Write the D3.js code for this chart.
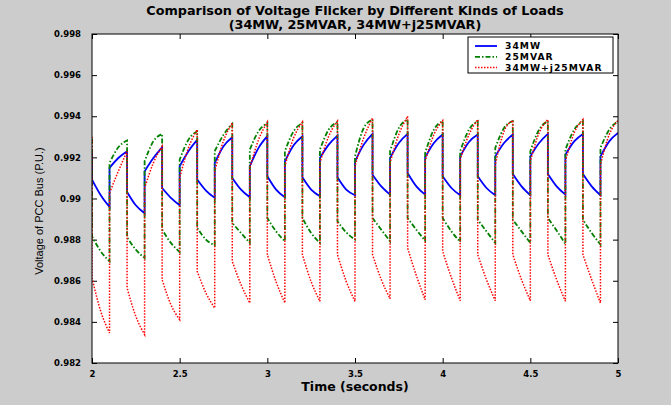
<!DOCTYPE html>
<html>
<head>
<meta charset="utf-8">
<script src="https://cdn.jsdelivr.net/npm/d3@7"></script>
<style>
  body { margin: 0; background: #cccccc; }
</style>
</head>
<body>
<div id="chart"></div>
<script>
// tick values
var xTicks = [2, 2.5, 3, 3.5, 4, 4.5, 5];
var yTicks = [0.982, 0.984, 0.986, 0.988, 0.99, 0.992, 0.994, 0.996, 0.998];

// switching instants (load off / on every 0.1 s)
var segTimes = [2.0, 2.1, 2.2, 2.3, 2.4, 2.5, 2.6, 2.7, 2.8, 2.9, 3.0,
                3.1, 3.2, 3.3, 3.4, 3.5, 3.6, 3.7, 3.8, 3.9, 4.0,
                4.1, 4.2, 4.3, 4.4, 4.5, 4.6, 4.7, 4.8, 4.9, 5.0];

// value just before t = 2 for each series
var prevValues = [0.9923, 0.9929, 0.9930];

// each segment: [start, middle, end] voltage
var mw34 = [
  [0.99092, 0.99016, 0.98959], [0.99149, 0.99197, 0.99230],
  [0.99032, 0.98967, 0.98928], [0.99132, 0.99197, 0.99249],
  [0.99051, 0.99003, 0.98967], [0.99157, 0.99230, 0.99285],
  [0.99092, 0.99038, 0.99003], [0.99173, 0.99254, 0.99298],
  [0.99100, 0.99043, 0.99006], [0.99157, 0.99246, 0.99303],
  [0.99108, 0.99043, 0.99006], [0.99181, 0.99259, 0.99303],
  [0.99103, 0.99043, 0.99011], [0.99197, 0.99262, 0.99306],
  [0.99103, 0.99043, 0.99016], [0.99181, 0.99262, 0.99314],
  [0.99116, 0.99059, 0.99019], [0.99197, 0.99270, 0.99314],
  [0.99124, 0.99059, 0.99019], [0.99200, 0.99270, 0.99311],
  [0.99108, 0.99051, 0.99016], [0.99205, 0.99275, 0.99311],
  [0.99108, 0.99051, 0.99016], [0.99205, 0.99270, 0.99311],
  [0.99119, 0.99059, 0.99016], [0.99205, 0.99270, 0.99314],
  [0.99119, 0.99059, 0.99019], [0.99213, 0.99278, 0.99314],
  [0.99119, 0.99059, 0.99016], [0.99205, 0.99278, 0.99319]
];
var mvar25 = [
  [0.98816, 0.98743, 0.98694], [0.99173, 0.99249, 0.99282],
  [0.98811, 0.98751, 0.98711], [0.99181, 0.99278, 0.99314],
  [0.98849, 0.98784, 0.98740], [0.99189, 0.99286, 0.99327],
  [0.98857, 0.98800, 0.98772], [0.99230, 0.99310, 0.99363],
  [0.98881, 0.98832, 0.98784], [0.99238, 0.99327, 0.99368],
  [0.98905, 0.98840, 0.98792], [0.99230, 0.99327, 0.99368],
  [0.98905, 0.98832, 0.98784], [0.99238, 0.99335, 0.99372],
  [0.98889, 0.98835, 0.98800], [0.99205, 0.99343, 0.99384],
  [0.98905, 0.98848, 0.98792], [0.99230, 0.99343, 0.99384],
  [0.98905, 0.98848, 0.98795], [0.99222, 0.99335, 0.99376],
  [0.98905, 0.98840, 0.98789], [0.99230, 0.99335, 0.99376],
  [0.98897, 0.98840, 0.98784], [0.99246, 0.99343, 0.99376],
  [0.98897, 0.98840, 0.98784], [0.99230, 0.99335, 0.99376],
  [0.98905, 0.98844, 0.98779], [0.99238, 0.99335, 0.99376],
  [0.98897, 0.98832, 0.98776], [0.99246, 0.99335, 0.99376]
];
var mixed = [
  [0.98613, 0.98451, 0.98346], [0.99027, 0.99132, 0.99230],
  [0.98565, 0.98427, 0.98338], [0.99051, 0.99173, 0.99254],
  [0.98605, 0.98484, 0.98411], [0.99100, 0.99246, 0.99335],
  [0.98646, 0.98540, 0.98467], [0.99132, 0.99280, 0.99368],
  [0.98694, 0.98581, 0.98492], [0.99149, 0.99286, 0.99372],
  [0.98727, 0.98595, 0.98492], [0.99157, 0.99295, 0.99372],
  [0.98727, 0.98595, 0.98500], [0.99173, 0.99303, 0.99376],
  [0.98727, 0.98597, 0.98500], [0.99157, 0.99295, 0.99392],
  [0.98727, 0.98605, 0.98513], [0.99173, 0.99311, 0.99400],
  [0.98759, 0.98625, 0.98508], [0.99181, 0.99311, 0.99379],
  [0.98743, 0.98615, 0.98503], [0.99189, 0.99311, 0.99384],
  [0.98727, 0.98605, 0.98503], [0.99165, 0.99327, 0.99379],
  [0.98727, 0.98605, 0.98503], [0.99181, 0.99319, 0.99384],
  [0.98727, 0.98605, 0.98500], [0.99181, 0.99319, 0.99384],
  [0.98727, 0.98605, 0.98492], [0.99165, 0.99311, 0.99379]
];
var seriesNames = ["34MW", "25MVAR", "34MW+j25MVAR"];

// set the dimensions and margins of the graph
var margin = {top: 34, right: 53, bottom: 42, left: 92},
    width = 671 - margin.left - margin.right,
    height = 405 - margin.top - margin.bottom;

var svg = d3.select("#chart")
  .append("svg")
    .attr("width", 671)
    .attr("height", 405)
    .style("display", "block");

svg.append("rect")
    .attr("width", 671)
    .attr("height", 405)
    .attr("fill", "#cccccc");

var g = svg.append("g")
    .attr("transform", "translate(" + margin.left + "," + margin.top + ")");

g.append("rect")
    .attr("width", width)
    .attr("height", height)
    .attr("fill", "white");

var x = d3.scaleLinear().domain([2, 5]).range([0, width]);
var y = d3.scaleLinear().domain([0.982, 0.998]).range([height, 0]);

var fmt = function(d) { return String(+d.toFixed(3)); };

// axes, ticks pointing inward like matlab
g.append("g")
    .attr("class", "axis")
    .attr("transform", "translate(0," + height + ")")
    .call(d3.axisBottom(x).tickValues(xTicks).tickSize(-5).tickSizeOuter(0).tickPadding(8).tickFormat(fmt));
g.append("g")
    .attr("class", "axis")
    .call(d3.axisLeft(y).tickValues(yTicks).tickSize(-5).tickSizeOuter(0).tickPadding(11).tickFormat(fmt));
g.append("g")
    .attr("class", "axis")
    .call(d3.axisTop(x).tickValues(xTicks).tickSize(-5).tickSizeOuter(0).tickFormat(""));
g.append("g")
    .attr("class", "axis")
    .attr("transform", "translate(" + width + ",0)")
    .call(d3.axisRight(y).tickValues(yTicks).tickSize(-5).tickSizeOuter(0).tickFormat(""));

g.selectAll(".axis .domain").remove();
g.selectAll(".axis line").attr("stroke", "#000");
g.selectAll(".axis text")
    .style("font-family", "DejaVu Sans")
    .style("font-weight", "bold")
    .style("font-size", "8.5px")
    .attr("fill", "#000");

g.append("clipPath").attr("id", "plotclip")
  .append("rect").attr("width", width).attr("height", height);

// one path per series: each segment is a smooth curve through its 3 points,
// consecutive segments joined by the vertical switching step
var seg = d3.line()
    .x(function(d) { return x(d[0]); })
    .y(function(d) { return y(d[1]); })
    .curve(d3.curveMonotoneX);

function buildPath(prev, segs) {
  var d = "M" + x(segTimes[0]) + "," + y(prev);
  segs.forEach(function(s, i) {
    var t0 = segTimes[i], t1 = segTimes[i + 1];
    var p = seg([[t0, s[0]], [(t0 + t1) / 2, s[1]], [t1, s[2]]]);
    d += "L" + p.slice(1);
  });
  return d;
}

var styles = [
  {color: "#0000ff", w: 1.8, dash: null},
  {color: "#008000", w: 1.8, dash: "5,2,1.5,2"},
  {color: "#ff0000", w: 1.5, dash: "1.5,1.5"}
];
var allSeries = [mw34, mvar25, mixed];

var lines = g.append("g").attr("clip-path", "url(#plotclip)");
allSeries.forEach(function(s, i) {
  lines.append("path")
      .attr("d", buildPath(prevValues[i], s))
      .attr("fill", "none")
      .attr("stroke", styles[i].color)
      .attr("stroke-width", styles[i].w)
      .attr("stroke-dasharray", styles[i].dash);
});

// frame
g.append("rect")
    .attr("width", width)
    .attr("height", height)
    .attr("fill", "none")
    .attr("stroke", "#000")
    .attr("stroke-width", 1);

// legend
var legend = svg.append("g").attr("transform", "translate(468,37)");
legend.append("rect")
    .attr("width", 145)
    .attr("height", 36)
    .attr("fill", "white")
    .attr("stroke", "#000");
seriesNames.forEach(function(name, i) {
  var cy = 9 + i * 10.8;
  legend.append("line")
      .attr("x1", 7).attr("x2", 29)
      .attr("y1", cy).attr("y2", cy)
      .attr("stroke", styles[i].color)
      .attr("stroke-width", styles[i].w)
      .attr("stroke-dasharray", styles[i].dash);
  legend.append("text")
      .attr("x", 37)
      .attr("y", cy + 3.3)
      .style("font-family", "DejaVu Sans")
      .style("font-weight", "bold")
      .style("font-size", "9.2px")
      .style("letter-spacing", "1px")
      .text(name);
});

// title
svg.append("text")
    .attr("x", margin.left + width / 2)
    .attr("y", 15)
    .attr("text-anchor", "middle")
    .style("font-family", "DejaVu Sans")
    .style("font-weight", "bold")
    .style("font-size", "12.8px")
    .text("Comparison of Voltage Flicker by Different Kinds of Loads");
svg.append("text")
    .attr("x", margin.left + width / 2)
    .attr("y", 28.5)
    .attr("text-anchor", "middle")
    .style("font-family", "DejaVu Sans")
    .style("font-weight", "bold")
    .style("font-size", "12.8px")
    .text("(34MW, 25MVAR, 34MW+j25MVAR)");

// axis labels
svg.append("text")
    .attr("x", margin.left + width / 2)
    .attr("y", 391)
    .attr("text-anchor", "middle")
    .style("font-family", "DejaVu Sans")
    .style("font-weight", "bold")
    .style("font-size", "12.5px")
    .text("Time (seconds)");

svg.append("text")
    .attr("transform", "translate(43,211) rotate(-90)")
    .attr("text-anchor", "middle")
    .style("font-family", "Liberation Sans")
    .style("font-size", "11px")
    .text("Voltage of PCC Bus (P.U.)");
</script>
</body>
</html>
